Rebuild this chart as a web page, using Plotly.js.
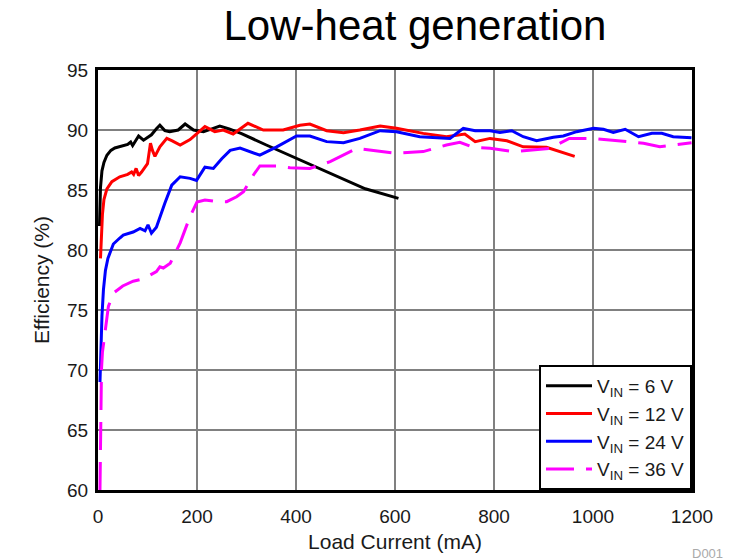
<!DOCTYPE html>
<html>
<head>
<meta charset="utf-8">
<script src="https://cdn.plot.ly/plotly-3.0.1.min.js"></script>
<style>html,body{margin:0;padding:0;background:#fff;}#chart{width:743px;height:560px;}</style>
</head>
<body>
<div id="chart"></div>
<script>
// Load current (mA) and efficiency (%) for each input voltage
const seriesNames = ["V<sub>IN</sub> = 6 V", "V<sub>IN</sub> = 12 V", "V<sub>IN</sub> = 24 V", "V<sub>IN</sub> = 36 V"];

const v6Current = [3, 5, 8, 12, 18, 26, 34, 50, 60, 66, 70, 76, 82, 92, 108, 118, 125, 135, 145, 162, 176, 193, 213, 230, 246, 265, 290, 340, 390, 440, 490, 540, 607];
const v6Eff     = [82, 85.2, 86.6, 87.3, 87.9, 88.3, 88.5, 88.7, 88.8, 89.0, 88.7, 89.1, 89.5, 89.15, 89.6, 90.1, 90.4, 89.95, 89.86, 90.0, 90.5, 90.0, 89.86, 90.1, 90.33, 90.1, 89.7, 88.75, 87.85, 86.95, 86.0, 85.1, 84.3];

const v12Current = [5, 7, 9, 12, 18, 28, 44, 60, 68, 72, 77, 82, 88, 100, 106, 110, 115, 125, 139, 150, 166, 186, 203, 216, 236, 253, 273, 303, 334, 374, 408, 428, 462, 496, 529, 570, 603, 657, 704, 741, 762, 792, 826, 859, 906, 926, 963];
const v12Eff     = [79.3, 81, 83, 84.2, 85.1, 85.7, 86.1, 86.3, 86.5, 86.3, 86.8, 86.2, 86.5, 87.2, 88.9, 88.3, 87.8, 88.6, 89.3, 89.1, 88.75, 89.2, 89.8, 90.28, 89.86, 90.0, 89.67, 90.56, 90.0, 90.0, 90.4, 90.5, 89.94, 89.78, 90.0, 90.33, 90.14, 89.72, 89.44, 89.67, 89.03, 89.3, 89.1, 88.6, 88.56, 88.3, 87.8];

const v24Current = [4, 6, 8, 11, 15, 20, 26, 31, 44, 51, 71, 85, 95, 101, 108, 118, 135, 149, 166, 186, 199, 216, 233, 250, 267, 287, 327, 361, 401, 428, 462, 496, 529, 570, 603, 650, 711, 738, 762, 792, 812, 836, 859, 886, 920, 940, 967, 1001, 1021, 1041, 1065, 1092, 1119, 1139, 1162, 1199];
const v24Eff     = [69, 72, 74.5, 76.7, 78.3, 79.3, 80.0, 80.5, 81.0, 81.25, 81.5, 81.8, 81.6, 82.1, 81.4, 81.9, 83.9, 85.4, 86.1, 85.97, 85.8, 86.9, 86.8, 87.6, 88.3, 88.5, 87.9, 88.6, 89.5, 89.5, 89.03, 88.94, 89.3, 89.94, 89.86, 89.44, 89.3, 90.14, 89.94, 89.94, 89.8, 89.94, 89.44, 89.1, 89.39, 89.5, 89.86, 90.14, 90.06, 89.8, 90.06, 89.44, 89.72, 89.72, 89.44, 89.36];

const v36Current = [4, 5, 5.5, 6, 7, 9, 14, 21, 31, 50, 71, 92, 118, 125, 132, 146, 166, 186, 200, 216, 240, 260, 280, 294, 314, 327, 361, 388, 428, 469, 523, 576, 603, 657, 704, 731, 758, 792, 839, 913, 952, 1000, 1061, 1102, 1135, 1199];
const v36Eff     = [60, 63, 66, 68, 70, 71.5, 73.3, 75.3, 76.4, 77.0, 77.4, 77.6, 78.2, 78.6, 78.5, 78.9, 80.6, 82.8, 84.0, 84.17, 84.03, 84.03, 84.44, 84.86, 86.25, 87.0, 87.0, 86.85, 86.8, 87.36, 88.47, 88.2, 88.06, 88.2, 88.75, 88.97, 88.56, 88.47, 88.2, 88.47, 89.3, 89.3, 89.03, 88.9, 88.6, 88.94];

const xTicks = [0, 200, 400, 600, 800, 1000, 1200];
const yTicks = [60, 65, 70, 75, 80, 85, 90, 95];

const FONT = "Arial, 'Liberation Sans', Helvetica, sans-serif";

const traces = [
  {x: v6Current,  y: v6Eff,  name: seriesNames[0], mode: "lines", line: {color: "#000000", width: 3}},
  {x: v12Current, y: v12Eff, name: seriesNames[1], mode: "lines", line: {color: "#ff0000", width: 3}},
  {x: v24Current, y: v24Eff, name: seriesNames[2], mode: "lines", line: {color: "#0000ff", width: 3}},
  {x: v36Current, y: v36Eff, name: seriesNames[3], mode: "lines", line: {color: "#ff00ff", width: 3, dash: "28px,12px"}}
];

const layout = {
  width: 743, height: 560,
  margin: {l: 98, r: 51, t: 70, b: 70},
  paper_bgcolor: "#ffffff", plot_bgcolor: "#ffffff",
  font: {family: FONT, color: "#1a1a1a"},
  title: {text: "Low-heat generation", font: {size: 42, family: FONT, color: "#000"},
          xref: "container", x: 415/743, xanchor: "center", yref: "container", y: 1 - 25/560, yanchor: "middle"},
  xaxis: {range: [0, 1200], tickvals: xTicks, ticktext: xTicks.map(String), ticks: "",
          showgrid: true, gridcolor: "#808080", gridwidth: 1.5, zeroline: false,
          showline: true, linecolor: "#000", linewidth: 3, mirror: true,
          ticklabelstandoff: 7,
          tickfont: {size: 19, family: FONT, color: "#1a1a1a"},
          title: {text: "Load Current (mA)", font: {size: 21, family: FONT, color: "#1a1a1a"}, standoff: 9},
          automargin: false},
  yaxis: {range: [60, 95], tickvals: yTicks, ticktext: yTicks.map(String), ticks: "",
          showgrid: true, gridcolor: "#808080", gridwidth: 1.5, zeroline: false,
          showline: true, linecolor: "#000", linewidth: 3, mirror: true,
          ticklabelstandoff: 3,
          tickfont: {size: 19, family: FONT, color: "#1a1a1a"},
          title: {text: "Efficiency (%)", font: {size: 21, family: FONT, color: "#1a1a1a"}, standoff: 12},
          automargin: false},
  showlegend: true,
  legend: {x: 1, y: 0, xanchor: "right", yanchor: "bottom", bgcolor: "#ffffff",
           bordercolor: "#000", borderwidth: 2, font: {size: 19, family: FONT, color: "#1a1a1a"},
           itemwidth: 46, tracegroupgap: 0},
  annotations: [{text: "D001", xref: "paper", yref: "paper", x: (707 - 98) / 594, y: (490 - 553) / 420,
                 showarrow: false, xanchor: "center", yanchor: "middle", font: {size: 13, family: FONT, color: "#aaaaaa"}}]
};

Plotly.newPlot("chart", traces, layout, {displayModeBar: false, staticPlot: true});
</script>
</body>
</html>
